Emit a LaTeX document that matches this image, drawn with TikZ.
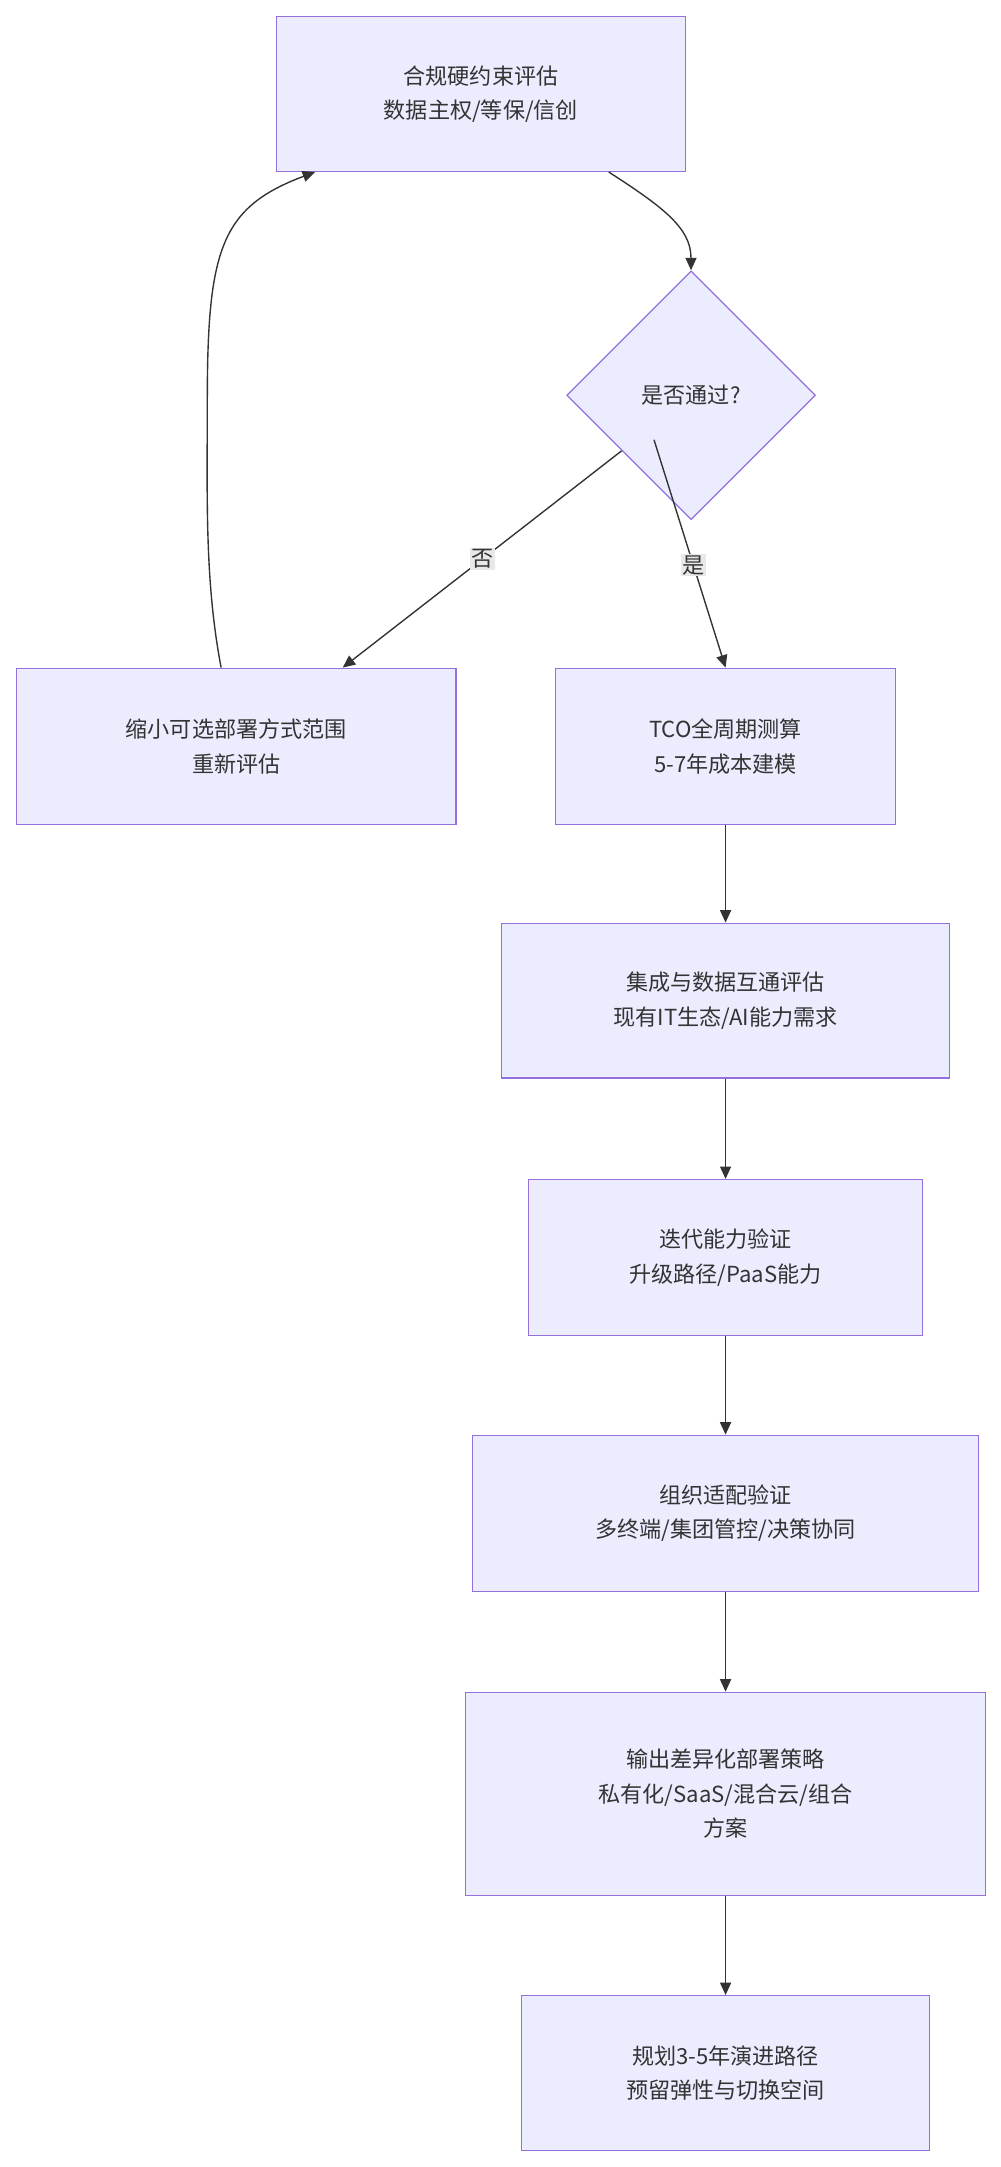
\documentclass[tikz,border=0pt]{standalone}
\usepackage{fontspec}
\setmainfont{Noto Sans CJK SC}
\usetikzlibrary{shapes.geometric,arrows.meta}
\definecolor{nfill}{HTML}{ECECFF}
\definecolor{nline}{HTML}{9370DB}
\definecolor{ntext}{HTML}{333333}
\definecolor{lbg}{HTML}{E8E8E8}
\begin{document}
\begin{tikzpicture}[x=1pt,y=-1pt,
  box/.style={draw=nline,fill=nfill,line width=0.9pt,text=ntext,font=\fontsize{16}{25}\selectfont,align=center,inner sep=0pt},
  dia/.style={draw=nline,fill=nfill,line width=0.9pt,text=ntext,font=\fontsize{16}{25}\selectfont,diamond,minimum width=180pt,minimum height=180pt,inner sep=0pt},
  arr/.style={draw=ntext,line width=1pt,-{Triangle[length=9pt,width=8pt]}},
  lab/.style={fill=lbg,text=ntext,font=\fontsize{16}{20}\selectfont,inner sep=1pt}]
\useasboundingbox (0,0) rectangle (724,1568);
\node[box,minimum width=296pt,minimum height=112pt] (A) at (348,68) {合规硬约束评估\\数据主权/等保/信创};
\node[dia] (Q) at (500,286) {是否通过?};
\node[box,minimum width=318pt,minimum height=113pt] (B) at (171,540) {缩小可选部署方式范围\\重新评估};
\node[box,minimum width=246pt,minimum height=113pt] (C) at (525,540) {TCO全周期测算\\5-7年成本建模};
\node[box,minimum width=324pt,minimum height=112pt] (D) at (525,724) {集成与数据互通评估\\现有IT生态/AI能力需求};
\node[box,minimum width=285pt,minimum height=113pt] (E) at (525,910) {迭代能力验证\\升级路径/PaaS能力};
\node[box,minimum width=366pt,minimum height=113pt] (F) at (525,1095) {组织适配验证\\多终端/集团管控/决策协同};
\node[box,minimum width=376pt,minimum height=147pt] (G) at (525,1298) {输出差异化部署策略\\私有化/SaaS/混合云/组合\\方案};
\node[box,minimum width=295pt,minimum height=112pt] (H) at (525,1500) {规划3-5年演进路径\\预留弹性与切换空间};
\draw[arr] (A.south east) ++(-56,0) .. controls (480,150) and (500,165) .. (Q.north);
\draw[arr] (Q.south west) ++(0,0) ++(-5,-5) -- ([xshift=77pt]B.north) node[lab,pos=0.5] {否};
\draw[arr] (Q.south east) ++(-72,-13) -- (C.north) node[lab,pos=0.55] {是};
\draw[arr] ([xshift=-11pt]B.north) .. controls (148,420) and (150,360) .. (150,290) .. controls (150,180) and (160,150) .. ([xshift=-120pt]A.south);
\draw[arr] (C) -- (D);
\draw[arr] (D) -- (E);
\draw[arr] (E) -- (F);
\draw[arr] (F) -- (G);
\draw[arr] (G) -- (H);
\end{tikzpicture}
\end{document}
